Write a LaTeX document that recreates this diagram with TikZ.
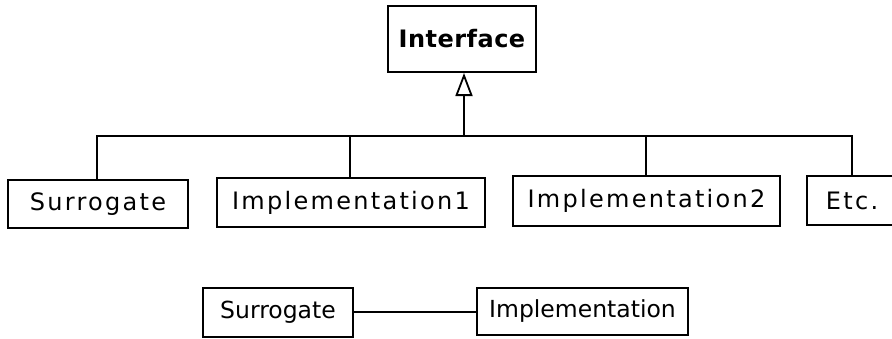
\documentclass[tikz,border=0pt]{standalone}
\usepackage{fontspec}
\setmainfont{DejaVu Sans}[LetterSpace=9.5]
\usetikzlibrary{arrows.meta}
\begin{document}
\begin{tikzpicture}[x=1pt,y=-1pt,
  box/.style={draw,line width=2pt,inner sep=0pt,font=\fontsize{24}{28}\selectfont},
  tight/.style={font=\fontsize{23.5}{28}\selectfont\addfontfeature{LetterSpace=0}},
  conn/.style={line width=2pt},
  inherit/.style={-{Triangle[open,width=17pt,length=23pt,line width=1.8pt]}}]
\clip (0,0) rectangle (892,338);
\useasboundingbox (0,0) rectangle (892,338);
\node[box,minimum width=148pt,minimum height=66pt] (iface) at (462,39) {\bfseries\addfontfeature{LetterSpace=2}Interface};
\node[box,minimum width=180pt,minimum height=48pt] (sur1) at (98,204) {Surrogate};
\node[box,minimum width=268pt,minimum height=49pt] (imp1) at (351,202.5) {Implementation1};
\node[box,minimum width=267pt,minimum height=50pt] (imp2) at (646.5,201) {Implementation2};
\node[box,minimum width=90pt,minimum height=49pt] (etc) at (852,200.5) {Etc.};
\node[box,tight,minimum width=150pt,minimum height=49pt] (sur2) at (278,312) {Surrogate};
\node[box,tight,minimum width=211pt,minimum height=47pt] (imp) at (582.5,311) {Implementation};
\coordinate (bus) at (464,136);
\draw[conn] (sur1.north -| 97,0) |- (bus) -| (etc.north);
\draw[conn] (imp1.north -| 350,0) -- (350,136);
\draw[conn] (imp2.north -| 646,0) -- (646,136);
\draw[conn,inherit] (bus) -- (iface.south -| bus);
\draw[conn] (sur2.east) -- (imp.west |- sur2.east);
\end{tikzpicture}
\end{document}
